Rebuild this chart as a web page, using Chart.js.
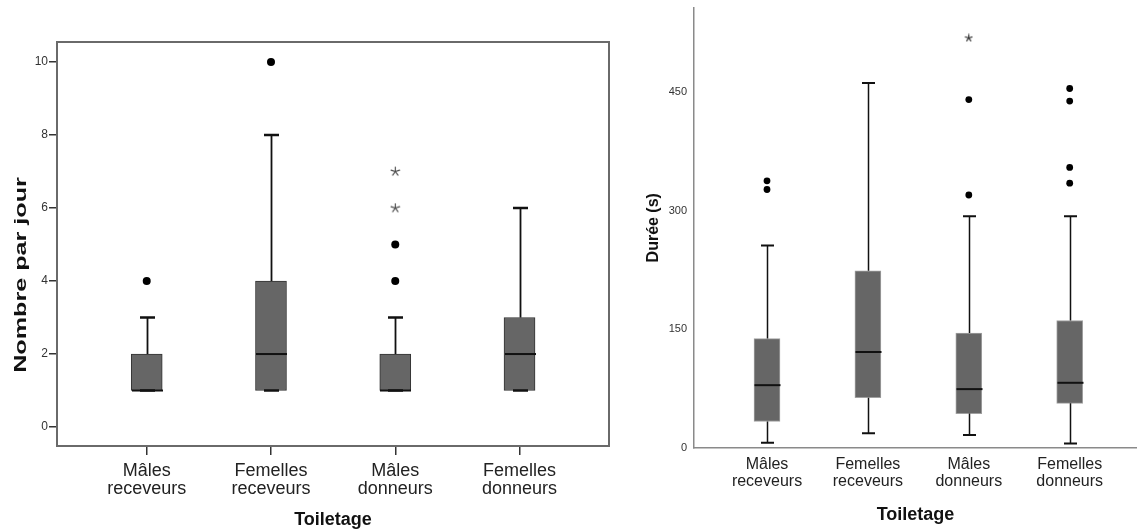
<!DOCTYPE html>
<html>
<head>
<meta charset="utf-8">
<script src="https://cdn.jsdelivr.net/npm/chart.js@4.4.1/dist/chart.umd.min.js"></script>
<style>
  html, body { margin: 0; padding: 0; background: #ffffff; }
  #wrap { position: relative; width: 1137px; height: 531px; overflow: hidden; background: #fff; }
  #c1 { position: absolute; left: 0; top: 0; }
  #c2 { position: absolute; left: 620px; top: 0; }
</style>
</head>
<body>
<div id="wrap">
  <canvas id="c1" width="620" height="531"></canvas>
  <canvas id="c2" width="517" height="531"></canvas>
</div>
<script>
// ---------- DATA ----------
const categories = ['Mâles receveurs', 'Femelles receveurs', 'Mâles donneurs', 'Femelles donneurs'];

// Left chart: Nombre par jour
const countTicks = [0, 2, 4, 6, 8, 10];
const countQ1 = [1, 1, 1, 1];
const countMedian = [1, 2, 1, 2];
const countQ3 = [2, 4, 2, 3];
const countWhiskerLow = [1, 1, 1, 1];
const countWhiskerHigh = [3, 8, 3, 6];
const countOutliers = [[4], [10], [4, 5], []];
const countExtremes = [[], [], [6, 7], []];

// Right chart: Durée (s)
const durTicks = [0, 150, 300, 450];
const durQ1 = [33, 63, 43, 56];
const durMedian = [79, 121, 74, 82];
const durQ3 = [138, 224, 145, 161];
const durWhiskerLow = [6, 18, 16, 5];
const durWhiskerHigh = [256, 462, 293, 293];
const durOutliers = [[327, 338], [], [320, 441], [335, 355, 439, 455]];
const durExtremes = [[], [], [519], []];

// ---------- HELPERS ----------
function makeAsterisk(size, color, lw) {
  const c = document.createElement('canvas');
  c.width = size; c.height = size;
  const g = c.getContext('2d');
  g.strokeStyle = color; g.lineWidth = lw; g.lineCap = 'round';
  const r = size / 2 - 1, cx = size / 2, cy = size / 2;
  for (let k = 0; k < 5; k++) {
    const a = -Math.PI / 2 + k * 2 * Math.PI / 5;
    g.beginPath(); g.moveTo(cx, cy); g.lineTo(cx + r * Math.cos(a), cy + r * Math.sin(a)); g.stroke();
  }
  return c;
}
function flatPoints(arr) {
  const pts = [];
  arr.forEach((vals, i) => vals.forEach(v => pts.push({ x: i, y: v })));
  return pts;
}
function catLabel(value) {
  const i = Math.round(value);
  if (Math.abs(value - i) > 1e-6 || !categories[i]) return '';
  return categories[i].split(' ');
}

const boxPlugin = {
  id: 'boxWhisker',
  afterDatasetsDraw(chart, args, o) {
    const ctx = chart.ctx, xs = chart.scales.x, ys = chart.scales.y;
    ctx.save();
    ctx.strokeStyle = o.color;
    for (let i = 0; i < o.median.length; i++) {
      const cx = Math.round(xs.getPixelForValue(i)) + 0.5;
      const yq1 = ys.getPixelForValue(o.q1[i]);
      const yq3 = ys.getPixelForValue(o.q3[i]);
      const ylo = ys.getPixelForValue(o.low[i]);
      const yhi = ys.getPixelForValue(o.high[i]);
      const ymed = ys.getPixelForValue(o.median[i]);
      ctx.lineWidth = o.whiskerWidth;
      ctx.beginPath();
      ctx.moveTo(cx, yq3); ctx.lineTo(cx, yhi);
      ctx.moveTo(cx, yq1); ctx.lineTo(cx, ylo);
      ctx.stroke();
      ctx.lineWidth = o.capLine;
      ctx.beginPath();
      ctx.moveTo(cx - o.capWidth / 2, yhi); ctx.lineTo(cx + o.capWidth / 2, yhi);
      ctx.moveTo(cx - o.capWidth / 2, ylo); ctx.lineTo(cx + o.capWidth / 2, ylo);
      ctx.stroke();
      ctx.lineWidth = o.medianWidth;
      ctx.beginPath();
      ctx.moveTo(cx - o.boxWidth / 2, ymed); ctx.lineTo(cx + o.boxWidth / 2, ymed);
      ctx.stroke();
    }
    ctx.restore();
  }
};
const framePlugin = {
  id: 'frame',
  afterDraw(chart, args, o) {
    if (o.draw) {
      const a = chart.chartArea, ctx = chart.ctx;
      ctx.save();
      ctx.strokeStyle = o.color; ctx.lineWidth = o.width;
      ctx.strokeRect(a.left, a.top, a.right - a.left, a.bottom - a.top);
      ctx.restore();
    }
    if (o.title) {
      // stretched vertical axis title (as in the reference export)
      const ctx = chart.ctx, t = o.title;
      ctx.save();
      ctx.translate(t.x, t.y);
      ctx.rotate(-Math.PI / 2);
      ctx.scale(t.stretch, 1);
      ctx.font = t.font;
      ctx.fillStyle = '#111';
      ctx.textAlign = 'center';
      ctx.textBaseline = 'middle';
      ctx.fillText(t.text, 0, 0);
      ctx.restore();
    }
  }
};

const FONT = "'Liberation Sans', Arial, sans-serif";

function buildChart(canvas, cfg) {
  return new Chart(canvas, {
    type: 'bar',
    data: {
      datasets: [
        {
          type: 'bar',
          data: categories.map((c, i) => ({ x: i, y: [cfg.q1[i], cfg.q3[i]] })),
          backgroundColor: '#666666',
          borderColor: cfg.boxBorder,
          borderWidth: 1,
          borderSkipped: false,
          barThickness: cfg.boxWidth,
          order: 2
        },
        {
          type: 'scatter',
          data: flatPoints(cfg.outliers),
          pointStyle: 'circle',
          pointRadius: cfg.dotR,
          backgroundColor: '#000',
          borderColor: '#000',
          borderWidth: 0,
          order: 1
        },
        {
          type: 'scatter',
          data: flatPoints(cfg.extremes),
          pointStyle: makeAsterisk(cfg.starSize, cfg.starColor, 1.1),
          pointRadius: cfg.starSize / 2,
          order: 1
        }
      ]
    },
    options: {
      responsive: false,
      animation: false,
      devicePixelRatio: 1,
      layout: { padding: cfg.padding, autoPadding: false },
      plugins: {
        legend: { display: false },
        tooltip: { enabled: false },
        boxWhisker: {
          q1: cfg.q1, q3: cfg.q3, median: cfg.median, low: cfg.low, high: cfg.high,
          color: '#111', whiskerWidth: cfg.whiskerWidth, capLine: cfg.capLine,
          capWidth: cfg.capWidth, medianWidth: 2, boxWidth: cfg.boxWidth
        },
        frame: { draw: cfg.frame, color: '#6a6a6a', width: 2, title: cfg.customTitle }
      },
      scales: {
        x: {
          type: 'linear',
          offset: false,
          min: cfg.xmin, max: cfg.xmax,
          afterBuildTicks: s => { s.ticks = categories.map((c, i) => ({ value: i })); },
          afterFit: s => { s.height = cfg.xAxisHeight; s.paddingLeft = 0; s.paddingRight = 0; },
          ticks: {
            callback: catLabel,
            autoSkip: false, maxRotation: 0,
            color: '#222',
            padding: cfg.xTickPad,
            font: { family: FONT, size: cfg.xFont, lineHeight: cfg.xLineHeight }
          },
          grid: { display: true, offset: false, drawOnChartArea: false, drawTicks: cfg.xTickMarks, tickLength: 9, color: '#333', lineWidth: 1.5 },
          border: { display: true, color: cfg.axisColor, width: cfg.axisWidth },
          title: {
            display: true, text: 'Toiletage', color: '#111',
            font: { family: FONT, size: 18, weight: 'bold', lineHeight: 1.2 },
            padding: { top: 0, bottom: cfg.xTitlePad }
          }
        },
        y: {
          type: 'linear',
          min: cfg.ymin, max: cfg.ymax,
          afterBuildTicks: s => { s.ticks = cfg.yTicks.map(v => ({ value: v })); },
          afterFit: s => { s.width = cfg.yAxisWidth; s.paddingTop = 0; s.paddingBottom = 0; },
          ticks: {
            color: '#333',
            padding: cfg.yTickPad,
            font: { family: FONT, size: cfg.yFont }
          },
          grid: { display: true, drawOnChartArea: false, drawTicks: cfg.yTickMarks, tickLength: 8, color: '#333', lineWidth: 1.5 },
          border: { display: true, color: cfg.axisColor, width: cfg.axisWidth },
          title: {
            display: !cfg.customTitle, text: cfg.yTitle, color: '#111',
            font: { family: FONT, size: 16, weight: 'bold', lineHeight: 1.2 },
            padding: { top: cfg.yTitlePad, bottom: 0 }
          }
        }
      }
    },
    plugins: [boxPlugin, framePlugin]
  });
}

buildChart(document.getElementById('c1'), {
  q1: countQ1, q3: countQ3, median: countMedian, low: countWhiskerLow, high: countWhiskerHigh,
  outliers: countOutliers, extremes: countExtremes,
  yTicks: countTicks, ymin: -0.52, ymax: 10.55, xmin: -0.722, xmax: 3.72,
  padding: { left: 0, top: 42, right: 11, bottom: 0 },
  xAxisHeight: 85, yAxisWidth: 57,
  boxWidth: 31, boxBorder: '#333', capWidth: 15, capLine: 2.5, whiskerWidth: 1.8,
  dotR: 4, starSize: 11, starColor: '#444',
  xFont: 18, xLineHeight: 1.035, xTickPad: 6.5, xTickMarks: true, xTitlePad: 0.5,
  yFont: 12, yTickPad: 1, yTickMarks: true, yTitlePad: 11.5,
  yTitle: 'Nombre par jour',
  customTitle: { text: 'Nombre par jour', x: 21, y: 275, stretch: 1.48, font: "bold 17px 'Liberation Sans', Arial, sans-serif" },
  axisColor: '#6a6a6a', axisWidth: 2, frame: true
});

buildChart(document.getElementById('c2'), {
  q1: durQ1, q3: durQ3, median: durMedian, low: durWhiskerLow, high: durWhiskerHigh,
  outliers: durOutliers, extremes: durExtremes,
  yTicks: durTicks, ymin: 0, ymax: 557, xmin: -0.7235, xmax: 3.667,
  padding: { left: 0, top: 8, right: 0, bottom: 0 },
  xAxisHeight: 83.5, yAxisWidth: 74,
  boxWidth: 26, boxBorder: '#a0a0a0', capWidth: 13, capLine: 2, whiskerWidth: 1.5,
  dotR: 3.4, starSize: 9, starColor: '#222',
  xFont: 16, xLineHeight: 1.05, xTickPad: 8.5, xTickMarks: false, xTitlePad: 5.5,
  yFont: 11, yTickPad: 7, yTickMarks: false, yTitlePad: 23.5,
  yTitle: 'Durée (s)',
  customTitle: null,
  axisColor: '#8a8a8a', axisWidth: 1.5, frame: false
});
</script>
</body>
</html>
